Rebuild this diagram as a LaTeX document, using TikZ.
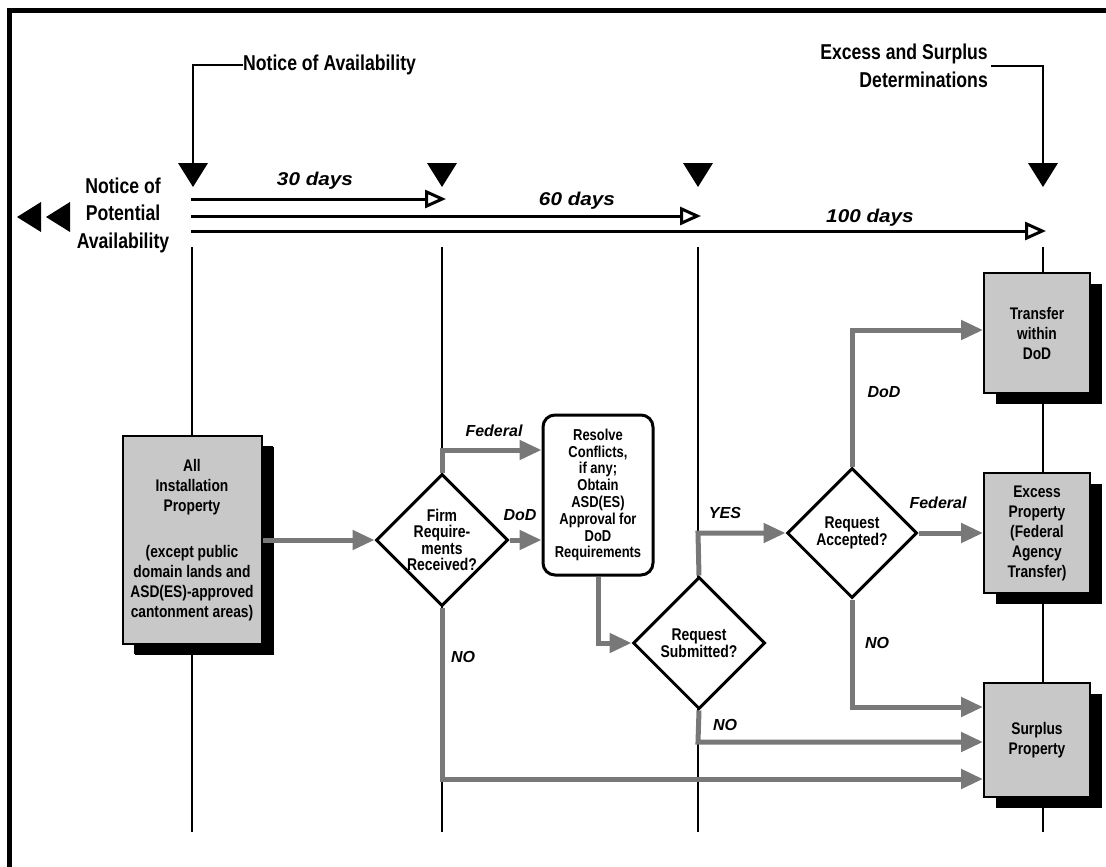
\documentclass[tikz,border=0pt]{standalone}
\usepackage{fontspec}
\setmainfont{Liberation Sans}
\newfontfamily\condf{Liberation Sans}[FakeStretch=0.82]
\newfontfamily\widef{Liberation Sans}[FakeStretch=1.12]
\usetikzlibrary{arrows.meta,shapes.geometric,shadows}
\definecolor{arrowgray}{RGB}{120,120,120}
\definecolor{boxgray}{RGB}{200,200,200}
\newcommand\tightls{\lineskiplimit=-20pt\relax}
\newcommand\decfont{\condf\bfseries\fontsize{17}{16.5}\selectfont\tightls}
\newcommand\rboxfont{\condf\bfseries\fontsize{15.8}{16.8}\selectfont\tightls}
\tikzset{
  toplbl/.style={font=\condf\bfseries\fontsize{21.5}{27.5}\selectfont, inner sep=0pt, align=center},
  itl/.style={font=\bfseries\itshape\fontsize{16}{18}\selectfont, inner sep=0pt},
  daylbl/.style={font=\widef\bfseries\itshape\fontsize{18.5}{20}\selectfont, inner sep=0pt, anchor=base},
  colline/.style={line width=1.5pt},
  tline/.style={line width=3pt, -{Triangle[open,length=21pt,width=18pt]}},
  garrow/.style={draw=arrowgray, line width=5pt, -{Triangle[length=22pt,width=19pt]}},
  shbox/.style={draw, line width=2pt, fill=boxgray, inner sep=0pt, align=center,
     font=\condf\bfseries\fontsize{16.8}{20}\selectfont,
     drop shadow={shadow xshift=12pt, shadow yshift=-11pt, fill=black, opacity=1}},
  decision/.style={diamond, shape aspect=1, draw, line width=3pt, fill=white, inner sep=0pt,
     minimum width=132pt, minimum height=132pt, align=center, font=\decfont},
  rbox/.style={rectangle, rounded corners=12pt, draw, line width=3pt, fill=white, inner sep=0pt, align=center,
     font=\rboxfont},
}
\begin{document}
\begin{tikzpicture}[x=1pt,y=-1pt]
\useasboundingbox (0,0) rectangle (1106,867);
% frame
\draw[line width=5pt] (9,867) -- (9,11) -- (1106,11);

% coordinates
\coordinate (tri1) at (193,163);
\coordinate (tri2) at (442,163);
\coordinate (tri3) at (698,163);
\coordinate (tri4) at (1043,163);
\coordinate (ts1) at (191,199); \coordinate (te1) at (446,199);
\coordinate (ts2) at (191,216); \coordinate (te2) at (701,216);
\coordinate (ts3) at (191,231); \coordinate (te3) at (1046,231);
\coordinate (a0) at (192,247); \coordinate (a1) at (192,832);
\coordinate (b0) at (442,247); \coordinate (b1) at (442,832);
\coordinate (c0) at (698,247); \coordinate (c1) at (698,832);
\coordinate (d0) at (1043,247); \coordinate (d1) at (1043,832);
\coordinate (bfed) at (442,450);
\coordinate (bno) at (442,779);
\coordinate (cyes) at (698,533);
\coordinate (cno) at (698,742);

% column lines
\draw[colline] (a0) -- (a1);
\draw[colline] (b0) -- (b1);
\draw[colline] (c0) -- (c1);
\draw[colline] (d0) -- (d1);

% top labels
\node[toplbl, anchor=west] (noa) at (243,65) {Notice of Availability};
\node[toplbl, anchor=east, align=right] (esd) at (988,66) {Excess and Surplus\\Determinations};
\node[toplbl] (npa) at (123,215) {Notice of\\Potential\\Availability};
\draw[colline] (noa.west) -| (tri1);
\draw[colline] ([xshift=3pt]esd.east) -| (tri4);
\foreach \t in {tri1,tri2,tri3,tri4}
  \fill (\t) ++(-15,0) -- ++(30,0) -- ++(-15,24) -- cycle;
\fill (17,217) -- (41,202) -- (41,232) -- cycle;
\fill (46,217) -- (70,202) -- (70,232) -- cycle;

% timeline
\draw[tline] (ts1) -- (te1);
\draw[tline] (ts2) -- (te2);
\draw[tline] (ts3) -- (te3);
\node[daylbl] (d30) at (315,185) {30 days};
\node[daylbl] (d60) at (577,205) {60 days};
\node[daylbl] (d100) at (870,222) {100 days};

% nodes
\node[shbox, minimum width=139pt, minimum height=208pt,
      drop shadow={shadow xshift=11pt, shadow yshift=-10pt, fill=black, opacity=1}]
  (allprop) at (192,540) {All\\Installation\\Property\\[26pt](except public\\domain lands and\\ASD(ES)-approved\\cantonment areas)};
\node[decision] (firm) at (442,540) {Firm\\Require-\\ments\\Received?};
\node[rbox, minimum width=110pt, minimum height=160pt] (resolve) at (598,495)
  {Resolve\\Conflicts,\\if any;\\Obtain\\ASD(ES)\\Approval for\\DoD\\Requirements};
\node[decision] (submitted) at (699,643) {Request\\Submitted?};
\node[decision, minimum width=130pt, minimum height=130pt] (accepted) at (852,533) {Request\\Accepted?};
\node[shbox, minimum width=106pt, minimum height=120pt] (transfer) at (1037,333) {Transfer\\within\\DoD};
\node[shbox, minimum width=106pt, minimum height=120pt] (excess) at (1037,533) {Excess\\Property\\(Federal\\Agency\\Transfer)};
\node[shbox, minimum width=106pt, minimum height=114pt] (surplus) at (1037,740) {Surplus\\Property};

% gray flow arrows
\draw[garrow] (allprop.east) -- (firm.west);
\draw[garrow] (firm.north) -- (bfed) -- (bfed -| resolve.west);
\draw[garrow] (firm.east) -- (firm.east -| resolve.west);
\draw[garrow] (resolve.south) |- (submitted.west);
\draw[garrow] (submitted.north) -- (cyes) -- (accepted.west);
\draw[garrow] (accepted.north) |- ([yshift=3pt]transfer.west);
\draw[garrow] (accepted.east) -- (excess.west);
\draw[garrow] (accepted.south) |- ([yshift=33pt]surplus.west);
\draw[garrow] (submitted.south) -- (cno) -- (cno -| surplus.west);
\draw[garrow] (firm.south) -- (bno) -- (bno -| surplus.west);

% branch labels
\node[itl] (lfed1) at (494,431) {Federal};
\node[itl] (ldod1) at (520,515) {DoD};
\node[itl] (lno1) at (463,657) {NO};
\node[itl] (lyes) at (725,513) {YES};
\node[itl] (ldod2) at (884,392) {DoD};
\node[itl] (lfed2) at (938,503) {Federal};
\node[itl] (lno2) at (877,643) {NO};
\node[itl] (lno3) at (725,725) {NO};
\end{tikzpicture}
\end{document}
